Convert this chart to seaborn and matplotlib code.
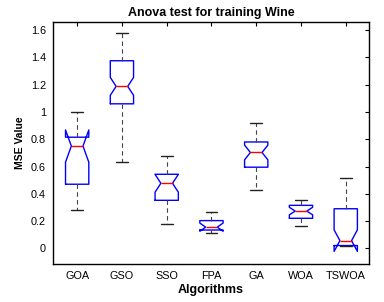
import numpy as np
import pandas as pd
import matplotlib
matplotlib.use("Agg")
import matplotlib.pyplot as plt
import seaborn as sns
from matplotlib.ticker import FormatStrFormatter

# Box statistics (MSE value)
algorithms = ["GOA", "GSO", "SSO", "FPA", "GA", "WOA", "TSWOA"]
whisker_low = [0.28, 0.633, 0.181, 0.113, 0.428, 0.166, 0.018]
q1 = [0.47, 1.060, 0.352, 0.134, 0.595, 0.220, 0.020]
median = [0.75, 1.188, 0.477, 0.155, 0.703, 0.273, 0.056]
q3 = [0.815, 1.376, 0.543, 0.203, 0.780, 0.315, 0.290]
whisker_high = [1.0, 1.583, 0.677, 0.267, 0.920, 0.355, 0.515]
# estimated number of runs per algorithm (controls notch size)
runs = [21, 57, 21, 13, 29, 29, 29]

# rebuild sample observations that give exactly these quartiles
rows = []
for i, alg in enumerate(algorithms):
    k = (runs[i] - 1) // 4
    vals = ([whisker_low[i]] * k + [q1[i]] * k + [median[i]]
            + [q3[i]] * k + [whisker_high[i]] * k)
    for v in vals:
        rows.append({"Algorithms": alg, "MSE Value": v})
df = pd.DataFrame(rows)

sns.set_style("white")
plt.rcParams["font.family"] = ["Liberation Sans", "DejaVu Sans"]
plt.rcParams["text.color"] = "black"
plt.rcParams["axes.labelcolor"] = "black"

fig = plt.figure(figsize=(3.84, 3.02), dpi=100)
ax = fig.add_axes([0.138, 0.126, 0.823, 0.801])

sns.boxplot(
    data=df,
    x="Algorithms",
    y="MSE Value",
    order=algorithms,
    notch=True,
    fill=False,
    width=0.52,
    color="blue",
    linewidth=1.0,
    showfliers=False,
    boxprops={"color": "blue", "linewidth": 1.0},
    medianprops={"color": "red", "linewidth": 1.0},
    whiskerprops={"color": "#444444", "linestyle": (0, (4, 3)), "linewidth": 0.8},
    capprops={"color": "#222222", "linewidth": 1.0},
    ax=ax,
)

ax.set_xlim(-0.54, 6.52)
ax.set_ylim(-0.115, 1.66)
ax.set_yticks(np.arange(0, 1.61, 0.2))
ax.yaxis.set_major_formatter(FormatStrFormatter("%g"))

ax.tick_params(axis="both", direction="in", length=3, width=0.8,
               top=True, right=True, labelsize=7.8, colors="black", pad=5)
for s in ax.spines.values():
    s.set_color("black")
    s.set_linewidth(1.0)

ax.set_title("Anova test for training Wine", fontsize=9, fontweight="bold",
             color="black", pad=4)
ax.set_xlabel("Algorithms", fontsize=9, fontweight="bold", labelpad=2)
ax.set_ylabel("MSE Value", fontsize=7.5, fontweight="bold", labelpad=4)

plt.savefig("out.png", dpi=100)
